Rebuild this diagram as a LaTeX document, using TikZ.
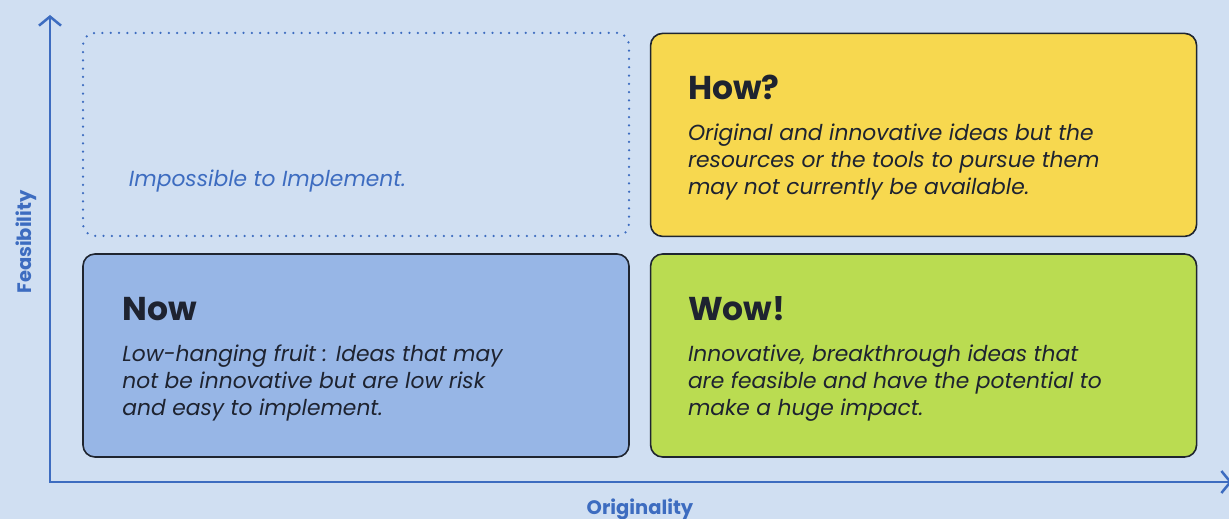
\documentclass[tikz,border=0pt]{standalone}
\usepackage{fontspec}
\setmainfont{Poppins}
\usetikzlibrary{arrows.meta, positioning, calc}
\definecolor{bgblue}{HTML}{D0DFF2}
\definecolor{axisblue}{HTML}{3D6CC0}
\definecolor{boxline}{HTML}{1F2530}
\definecolor{ink}{HTML}{1E2330}
\definecolor{howyellow}{HTML}{F7D84F}
\definecolor{nowblue}{HTML}{97B6E6}
\definecolor{wowgreen}{HTML}{BADC51}

\begin{document}
\begin{tikzpicture}[x=1pt, y=-1pt,
    quad/.style={draw=boxline, line width=1.6pt, rounded corners=12pt, minimum width=546pt, minimum height=203pt, inner sep=0pt},
    qtitle/.style={anchor=base west, inner sep=0pt, font=\fontsize{33}{40}\selectfont\bfseries, text=ink},
    qbody/.style={anchor=base west, inner sep=0pt, align=left, font=\fontsize{21.8}{27}\selectfont\itshape, text=ink},
    axis/.style={draw=axisblue, line width=2.5pt, line cap=rect, -{Straight Barb[length=9pt, width=22pt]}},
    axislabel/.style={inner sep=0pt, font=\fontsize{19.5}{22}\selectfont\bfseries, text=axisblue},
    ]

    % background
    \fill[bgblue] (0,0) rectangle (1229,519);
    \useasboundingbox (0,0) rectangle (1229,519);

    % quadrants
    \node[quad, fill=nowblue] (now) at (356,355.5) {};
    \node[quad, fill=wowgreen, right=20pt of now] (wow) {};
    \node[quad, fill=howyellow, above=16pt of wow] (how) {};
    \node[quad, draw=axisblue, line width=2.5pt, dash pattern=on 0pt off 8.3pt, line cap=round, above=16pt of now] (impossible) {};

    % quadrant texts (base = last line)
    \node[qtitle] (howtitle) at ([shift={(38,67)}]how.north west) {How?};
    \node[qbody] (howtext) at ([shift={(38,162)}]how.north west) {Original and innovative ideas but the\\resources or the tools to pursue them\\may not currently be available.};

    \node[qtitle] (nowtitle) at ([shift={(40,67)}]now.north west) {Now};
    \node[qbody] (nowtext) at ([shift={(40,162)}]now.north west) {Low-hanging fruit : Ideas that may\\not be innovative but are low risk\\and easy to implement.};

    \node[qtitle] (wowtitle) at ([shift={(38,67)}]wow.north west) {Wow!};
    \node[qbody] (wowtext) at ([shift={(38,162)}]wow.north west) {Innovative, breakthrough ideas that\\are feasible and have the potential to\\make a huge impact.};

    \node[qbody, text=axisblue] (impossibletext) at ([shift={(47,155)}]impossible.north west) {Impossible to Implement.};

    % axes
    \coordinate (origin) at (50,482);
    \coordinate (ytip) at (50,15);
    \coordinate (xtip) at (1232,482);
    \draw[axis] (origin) -- (ytip);
    \draw[axis] (origin) -- (xtip);

    \node[axislabel, rotate=90] (feasibility) at (26,242) {Feasibility};
    \node[axislabel, anchor=base] (originality) at (640,514) {Originality};
\end{tikzpicture}
\end{document}
